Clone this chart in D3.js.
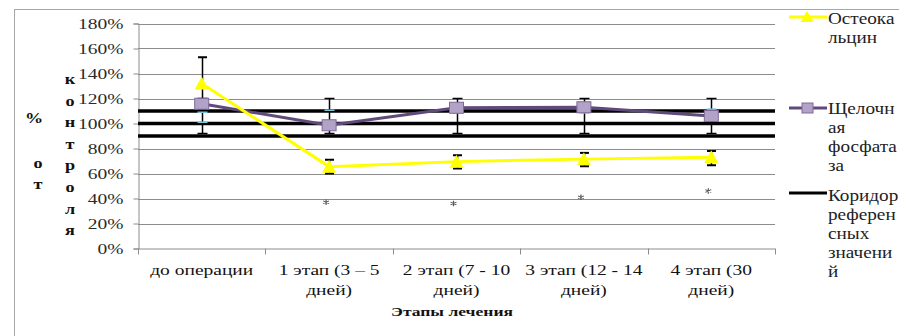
<!DOCTYPE html>
<html><head><meta charset="utf-8">
<script src="https://cdn.jsdelivr.net/npm/d3@7"></script>
<style>
html,body{margin:0;padding:0;background:#fff;}
svg{display:block;}
text{font-family:"Liberation Serif","Times New Roman",serif;}
</style></head>
<body>
<svg id="chart" width="899" height="336"></svg>
<script>
// ---- data ----
const categories = ["до операции", "1 этап (3 – 5 дней)", "2 этап (7 - 10 дней)", "3 этап (12 - 14 дней)", "4 этап (30 дней)"];
const tickLabelLines = [["до операции"], ["1 этап (3 – 5", "дней)"], ["2 этап (7 - 10", "дней)"], ["3 этап (12 - 14", "дней)"], ["4 этап (30", "дней)"]];
const osteocalcin = [1.32, 0.655, 0.695, 0.715, 0.73];
const osteoErrHigh = [1.53, 0.71, 0.746, 0.765, 0.78];
const osteoErrLow = [1.11, 0.60, 0.64, 0.658, 0.666];
const phosphatase = [1.158, 0.986, 1.126, 1.13, 1.06];
const phosErrHigh = [1.20, 1.20, 1.20, 1.20, 1.20];
const phosErrLow = [0.92, 0.92, 0.92, 0.92, 0.92];
const phosAltCapA = [1.09, 1.106, 1.085, 1.085, 1.115];
const phosAltCapB = [1.01, null, null, null, null];
const corridor = [0.9, 1.0, 1.1];
const asterisks = [null, 0.37, 0.36, 0.41, 0.46];
const yTicks = [0, 0.2, 0.4, 0.6, 0.8, 1.0, 1.2, 1.4, 1.6, 1.8];
const legendOsteo = ["Остеока", "льцин"];
const legendPhos = ["Щелочн", "ая", "фосфата", "за"];
const legendCorr = ["Коридор", "референ", "сных", "значени", "й"];
const yTitleCol1 = ["%", "о", "т"];
const yTitleCol2 = ["к", "о", "н", "т", "р", "о", "л", "я"];
const xTitle = "Этапы лечения";

// ---- layout ----
const SX = 1.3; // horizontal stretch of text seen in the reference
const SXL = 1.2; // legend stretch
const svg = d3.select("#chart");
const pLeft = 138, pRight = 775, pTop = 23.5, pBottom = 248.5;
const x = d3.scaleBand().domain(categories).range([pLeft, pRight]).padding(0);
const y = d3.scaleLinear().domain([0, 1.8]).range([pBottom, pTop]);
const cx = c => x(c) + x.bandwidth() / 2;
const gridColor = "#8c8c8c";

// outer frame
svg.append("rect").attr("x", 14.5).attr("y", 9.5).attr("width", 900).attr("height", 340)
  .attr("fill", "none").attr("stroke", "#a6a6a6").attr("stroke-width", 1);

// gridlines
svg.append("g").selectAll("line").data(yTicks.filter(d => d > 0)).join("line")
  .attr("x1", pLeft).attr("x2", pRight)
  .attr("y1", d => Math.round(y(d)) + 0.5).attr("y2", d => Math.round(y(d)) + 0.5)
  .attr("stroke", gridColor).attr("stroke-width", 1);

// y axis
const yAxis = svg.append("g").attr("transform", `translate(${pLeft + 0.5},0)`)
  .call(d3.axisLeft(y).tickValues(yTicks).tickFormat(d3.format(".0%")).tickSize(5).tickPadding(10));
yAxis.attr("font-family", null);
yAxis.select(".domain").attr("stroke", gridColor);
yAxis.selectAll(".tick line").attr("stroke", gridColor);
yAxis.selectAll(".tick text").attr("font-size", 15).attr("fill", "#2a2a2a")
  .attr("font-family", "Liberation Serif")
  .attr("x", -15 / SX).attr("transform", `scale(${SX},1)`);

// x axis
const xAxisG = svg.append("g");
xAxisG.append("line").attr("x1", pLeft).attr("x2", pRight).attr("y1", pBottom + 0.5).attr("y2", pBottom + 0.5)
  .attr("stroke", gridColor);
const bounds = categories.map(c => x(c)).concat([pRight]);
xAxisG.selectAll("line.tk").data(bounds).join("line").attr("class", "tk")
  .attr("x1", d => Math.round(d) + 0.5).attr("x2", d => Math.round(d) + 0.5)
  .attr("y1", pBottom).attr("y2", pBottom + 6).attr("stroke", gridColor);
categories.forEach((c, i) => {
  const t = xAxisG.append("text").attr("font-size", 15).attr("fill", "#111")
    .attr("text-anchor", "middle")
    .attr("transform", `translate(${cx(c)},0) scale(${SX},1)`);
  tickLabelLines[i].forEach((ln, j) => {
    t.append("tspan").attr("x", 0).attr("y", 275 + j * 20.5).text(ln);
  });
});
svg.append("text").attr("font-size", 13.5).attr("font-weight", "bold").attr("fill", "#111")
  .attr("text-anchor", "middle")
  .attr("transform", `translate(452,316) scale(${SX},1)`).text(xTitle);

// y title (stacked letters)
const col1Y = [118, 163, 184];
yTitleCol1.forEach((ch, i) => {
  svg.append("text").attr("font-size", 14).attr("font-weight", "bold").attr("fill", "#111")
    .attr("text-anchor", "middle")
    .attr("transform", `translate(${i === 0 ? 34 : 38},${col1Y[i] + 5}) scale(${SX},1)`).text(ch);
});
yTitleCol2.forEach((ch, i) => {
  svg.append("text").attr("font-size", 14).attr("font-weight", "bold").attr("fill", "#111")
    .attr("text-anchor", "middle")
    .attr("transform", `translate(70,${79 + i * 21.6 + 5}) scale(${SX},1)`).text(ch);
});

// corridor lines
svg.append("g").selectAll("line").data(corridor).join("line")
  .attr("x1", pLeft).attr("x2", pRight).attr("y1", d => y(d)).attr("y2", d => y(d))
  .attr("stroke", "#000").attr("stroke-width", 3.5);

// error bars
const eb = svg.append("g");
categories.forEach((c, i) => {
  const xc = Math.round(cx(c)) + 0.5;
  eb.append("line").attr("x1", xc).attr("x2", xc).attr("y1", y(phosErrHigh[i])).attr("y2", y(phosErrLow[i]))
    .attr("stroke", "#000").attr("stroke-width", 1.5);
  [phosErrHigh[i], phosErrLow[i]].forEach(v => {
    eb.append("line").attr("x1", xc - 5).attr("x2", xc + 5).attr("y1", y(v)).attr("y2", y(v))
      .attr("stroke", "#000").attr("stroke-width", 1.5);
  });
  [phosAltCapA[i], phosAltCapB[i]].filter(v => v != null).forEach(v => {
    eb.append("line").attr("x1", xc - 5).attr("x2", xc + 5).attr("y1", y(v)).attr("y2", y(v))
      .attr("stroke", "#7cc6d6").attr("stroke-width", 1.5);
  });
  eb.append("line").attr("x1", xc).attr("x2", xc).attr("y1", y(osteoErrHigh[i])).attr("y2", y(osteoErrLow[i]))
    .attr("stroke", "#000").attr("stroke-width", 1.5);
  [osteoErrHigh[i], osteoErrLow[i]].forEach(v => {
    eb.append("line").attr("x1", xc - 4.5).attr("x2", xc + 4.5).attr("y1", y(v)).attr("y2", y(v))
      .attr("stroke", "#000").attr("stroke-width", 2);
  });
});

// series lines
const lineGen = arr => d3.line().x((d, i) => cx(categories[i])).y(d => y(d))(arr);
svg.append("path").attr("d", lineGen(phosphatase)).attr("fill", "none")
  .attr("stroke", "#604a7b").attr("stroke-width", 3);
svg.append("path").attr("d", lineGen(osteocalcin)).attr("fill", "none")
  .attr("stroke", "#ffff00").attr("stroke-width", 3);

// markers
svg.append("g").selectAll("rect").data(phosphatase).join("rect")
  .attr("x", (d, i) => cx(categories[i]) - 7).attr("y", d => y(d) - 5.5)
  .attr("width", 14).attr("height", 11)
  .attr("fill", "#b3a2c7").attr("stroke", "#7e6a9a").attr("stroke-width", 1);
svg.append("g").selectAll("path").data(osteocalcin).join("path")
  .attr("d", "M0,-7L7,6L-7,6Z")
  .attr("transform", (d, i) => `translate(${cx(categories[i])},${y(d)})`)
  .attr("fill", "#ffff00");

// asterisks (significance marks)
const ast = d3.symbol().type(d3.symbolAsterisk).size(22);
svg.append("g").selectAll("path").data(asterisks.map((v, i) => ({ v, i })).filter(d => d.v != null)).join("path")
  .attr("d", ast)
  .attr("transform", d => `translate(${cx(categories[d.i]) - 3},${y(d.v)}) scale(1.2,1)`)
  .attr("fill", "none").attr("stroke", "#555").attr("stroke-width", 1);

// legend
const lg = svg.append("g");
const lx1 = 789, lx2 = 827, ltx = 828;
function legendText(lines, y0) {
  lines.forEach((ln, j) => {
    lg.append("text").attr("font-size", 16).attr("fill", "#222")
      .attr("transform", `translate(${ltx},${y0 + j * 19.2 + 5.5}) scale(${SXL},1)`).text(ln);
  });
}
lg.append("line").attr("x1", lx1).attr("x2", lx2).attr("y1", 17).attr("y2", 17)
  .attr("stroke", "#ffff00").attr("stroke-width", 3);
lg.append("path").attr("d", "M0,-6L6.5,5L-6.5,5Z").attr("transform", "translate(807,17)").attr("fill", "#ffff00");
legendText(legendOsteo, 18);
lg.append("line").attr("x1", lx1).attr("x2", lx2).attr("y1", 108).attr("y2", 108)
  .attr("stroke", "#604a7b").attr("stroke-width", 3);
lg.append("rect").attr("x", 802).attr("y", 103).attr("width", 11).attr("height", 10)
  .attr("fill", "#b3a2c7").attr("stroke", "#7e6a9a");
legendText(legendPhos, 108);
lg.append("line").attr("x1", lx1).attr("x2", lx2).attr("y1", 193).attr("y2", 193)
  .attr("stroke", "#000").attr("stroke-width", 3);
legendText(legendCorr, 195);
</script>
</body></html>
